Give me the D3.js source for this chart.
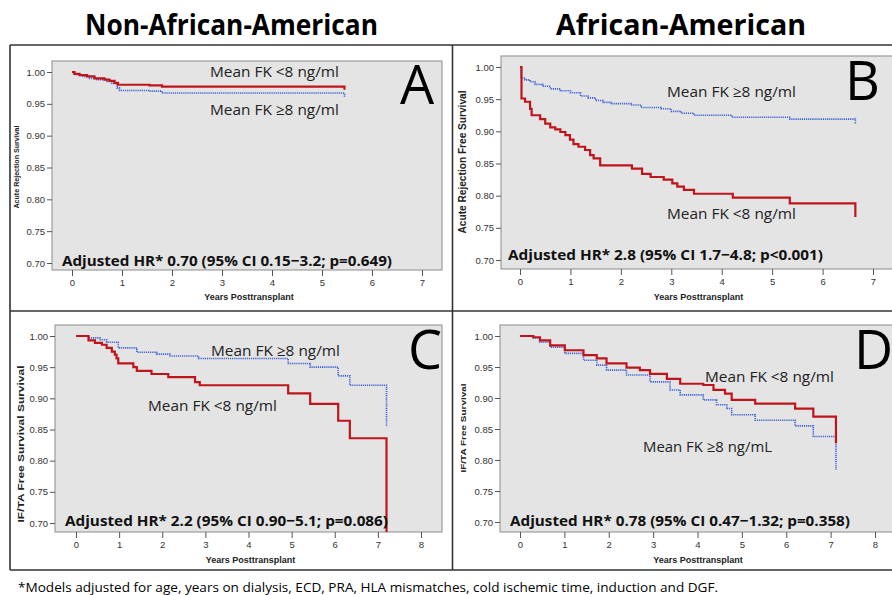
<!DOCTYPE html>
<html>
<head>
<meta charset="utf-8">
<script src="https://cdn.jsdelivr.net/npm/d3@7"></script>
<style>
  body { margin: 0; background: #fff; }
  svg { display: block; }
</style>
</head>
<body>
<script>
// Kaplan-Meier curves, four panels (A-D).
const WIDTH = 892;
const HEIGHT = 595;

// --- data: event times (years) and survival, last pair = censor drop ---
const A_LOW_T  = [0, 0.05, 0.15, 0.3, 0.45, 0.65, 0.75, 0.85, 0.92, 1.55, 1.8, 5.45];
const A_LOW_S  = [1.0, 0.997, 0.995, 0.993, 0.990, 0.988, 0.986, 0.983, 0.980, 0.979, 0.977, 0.972];
const A_HIGH_T = [0, 0.03, 0.2, 0.35, 0.5, 0.7, 0.8, 0.9, 0.95, 1.55, 1.8, 5.45];
const A_HIGH_S = [1.0, 0.996, 0.993, 0.990, 0.988, 0.985, 0.982, 0.975, 0.971, 0.970, 0.967, 0.961];

const B_LOW_T  = [0, 0.03, 0.10, 0.20, 0.23, 0.40, 0.50, 0.60, 0.70, 0.80, 0.90, 0.99, 1.06, 1.16,
                  1.29, 1.39, 1.46, 1.59, 2.22, 2.42, 2.59, 2.85, 3.02, 3.12, 3.25, 3.45, 4.22, 5.35, 6.65];
const B_LOW_S  = [1.0, 0.951, 0.946, 0.935, 0.925, 0.919, 0.912, 0.906, 0.903, 0.899, 0.894, 0.887, 0.880, 0.876,
                  0.871, 0.863, 0.858, 0.847, 0.842, 0.834, 0.829, 0.825, 0.819, 0.814, 0.809, 0.803, 0.797, 0.788, 0.767];
const B_HIGH_T = [0, 0.02, 0.1, 0.2, 0.3, 0.45, 0.6, 0.8, 1.0, 1.2, 1.35, 1.5, 1.65, 1.8, 2.2, 2.4,
                  2.8, 3.0, 3.2, 3.45, 4.2, 5.35, 6.65];
const B_HIGH_S = [1.0, 0.983, 0.980, 0.977, 0.973, 0.970, 0.966, 0.963, 0.960, 0.955, 0.952, 0.948, 0.945, 0.943, 0.941, 0.937,
                  0.935, 0.931, 0.928, 0.925, 0.922, 0.919, 0.912];

const C_LOW_T  = [0, 0.29, 0.44, 0.60, 0.71, 0.83, 0.90, 0.94, 0.98, 1.33, 1.41, 1.75, 2.14, 2.76,
                  2.87, 4.92, 5.43, 6.08, 6.35, 7.2];
const C_LOW_S  = [1.0, 0.993, 0.989, 0.986, 0.981, 0.975, 0.970, 0.964, 0.956, 0.950, 0.944, 0.939, 0.934, 0.926,
                  0.921, 0.908, 0.891, 0.864, 0.836, 0.68];
const C_HIGH_T = [0, 0.29, 0.56, 0.71, 0.98, 1.41, 1.87, 2.18, 2.84, 4.92, 5.43, 6.08, 6.35, 7.2];
const C_HIGH_S = [1.0, 0.997, 0.994, 0.990, 0.981, 0.974, 0.971, 0.968, 0.964, 0.956, 0.950, 0.936, 0.921, 0.855];

const D_LOW_T  = [0, 0.3, 0.45, 0.68, 1.01, 1.43, 1.73, 1.95, 2.40, 2.70, 2.93, 3.31, 3.61, 4.13,
                  4.36, 4.62, 4.77, 5.30, 6.20, 6.61, 7.12];
const D_LOW_S  = [1.0, 0.998, 0.993, 0.985, 0.977, 0.969, 0.964, 0.956, 0.949, 0.945, 0.939, 0.931, 0.923, 0.921,
                  0.913, 0.907, 0.897, 0.891, 0.883, 0.870, 0.827];
const D_HIGH_T = [0, 0.3, 0.45, 0.68, 1.01, 1.43, 1.73, 1.95, 2.40, 2.93, 3.38, 3.61, 4.13, 4.43,
                  4.66, 4.77, 5.30, 6.20, 6.61, 7.12];
const D_HIGH_S = [1.0, 0.997, 0.990, 0.982, 0.972, 0.961, 0.953, 0.945, 0.937, 0.926, 0.913, 0.905, 0.897, 0.889,
                  0.883, 0.873, 0.864, 0.855, 0.838, 0.784];

const Y_TICKS = [0.70, 0.75, 0.80, 0.85, 0.90, 0.95, 1.00];
const X_TICKS_7 = [0, 1, 2, 3, 4, 5, 6, 7];
const X_TICKS_8 = [0, 1, 2, 3, 4, 5, 6, 7, 8];

const GROUPS = ['Non-African-American', 'African-American'];
const FOOTNOTE = '*Models adjusted for age, years on dialysis, ECD, PRA, HLA mismatches, cold ischemic time, induction and DGF.';

const RED = '#c0141c';
const BLUE = '#3f62d6';

const svg = d3.select('body').append('svg')
    .attr('width', WIDTH)
    .attr('height', HEIGHT);

// headers + frame lines
svg.append('text').attr('x', 85).attr('y', 35)
    .attr('textLength', 293).attr('lengthAdjust', 'spacingAndGlyphs')
    .style('font', 'bold 28px "Open Sans", sans-serif').text(GROUPS[0]);
svg.append('text').attr('x', 556).attr('y', 35)
    .attr('textLength', 250).attr('lengthAdjust', 'spacingAndGlyphs')
    .style('font', 'bold 28px "Open Sans", sans-serif').text(GROUPS[1]);

const frame = svg.append('g').attr('stroke', '#333').attr('stroke-width', 1.6).attr('fill', 'none');
frame.append('line').attr('x1', 10).attr('x2', WIDTH).attr('y1', 45).attr('y2', 45);
frame.append('line').attr('x1', 10).attr('x2', WIDTH).attr('y1', 311).attr('y2', 311);
frame.append('line').attr('x1', 10).attr('x2', WIDTH).attr('y1', 570).attr('y2', 570);
frame.append('line').attr('x1', 10).attr('x2', 10).attr('y1', 45).attr('y2', 570);
frame.append('line').attr('x1', 452.5).attr('x2', 452.5).attr('y1', 45).attr('y2', 570);

svg.append('text').attr('x', 18).attr('y', 592)
    .attr('textLength', 700).attr('lengthAdjust', 'spacingAndGlyphs')
    .style('font', '12px "Open Sans", sans-serif').text(FOOTNOTE);

const panels = [
  { id: 'A', rect: [52, 61, 442, 270], xr: [72, 422], xd: 7, yr: [263, 72], xticks: X_TICKS_7,
    ytitle: 'Acute Rejection Survival', ytx: 19, yty: 167, ytlen: 83, ytsize: 6.5,
    xtitleY: 300,
    low: [A_LOW_T, A_LOW_S], high: [A_HIGH_T, A_HIGH_S],
    lowLab: ['Mean FK <8 ng/ml', 210, 77], highLab: ['Mean FK \u22658 ng/ml', 210, 115],
    hr: ['Adjusted HR* 0.70 (95% CI 0.15\u22123.2; p=0.649)', 62, 266, 330],
    letter: [400, 104] },
  { id: 'B', rect: [501, 56, 894, 269], xr: [520, 873], xd: 7, yr: [260, 67], xticks: X_TICKS_7,
    ytitle: 'Acute Rejection Free Survival', ytx: 466, yty: 162, ytlen: 143, ytsize: 10,
    xtitleY: 300,
    low: [B_LOW_T, B_LOW_S], high: [B_HIGH_T, B_HIGH_S],
    lowLab: ['Mean FK <8 ng/ml', 667, 219], highLab: ['Mean FK \u22658 ng/ml', 667, 97],
    hr: ['Adjusted HR* 2.8 (95% CI 1.7\u22124.8; p<0.001)', 508, 260, 315],
    letter: [845, 100] },
  { id: 'C', rect: [55, 325, 442, 532], xr: [76, 421], xd: 8, yr: [523, 336], xticks: X_TICKS_8,
    ytitle: 'IF/TA Free Survival Survival', ytx: 24, yty: 444, ytlen: 157, ytsize: 9.5,
    xtitleY: 563,
    low: [C_LOW_T, C_LOW_S], high: [C_HIGH_T, C_HIGH_S],
    lowLab: ['Mean FK <8 ng/ml', 148, 411], highLab: ['Mean FK \u22658 ng/ml', 211, 356],
    hr: ['Adjusted HR* 2.2 (95% CI 0.90\u22125.1; p=0.086)', 65, 526, 323],
    letter: [408, 369] },
  { id: 'D', rect: [500, 325, 894, 532], xr: [520, 875], xd: 8, yr: [522, 336], xticks: X_TICKS_8,
    ytitle: 'IF/TA Free Survival', ytx: 466, yty: 428, ytlen: 89, ytsize: 8,
    xtitleY: 563,
    low: [D_LOW_T, D_LOW_S], high: [D_HIGH_T, D_HIGH_S],
    lowLab: ['Mean FK <8 ng/ml', 705, 382], highLab: ['Mean FK \u22658 ng/mL', 643, 452],
    hr: ['Adjusted HR* 0.78 (95% CI 0.47\u22121.32; p=0.358)', 510, 526, 340],
    letter: [854, 369] }
];

const drawPanel = p => {
  const [x0, y0, x1, y1] = p.rect;
  const g = svg.append('g');
  const x = d3.scaleLinear().domain([0, p.xd]).range(p.xr);
  const y = d3.scaleLinear().domain([0.70, 1.00]).range(p.yr);

  g.append('rect')
    .attr('x', x0).attr('y', y0).attr('width', x1 - x0).attr('height', y1 - y0)
    .attr('fill', '#e4e4e4').attr('stroke', '#8c8c8c').attr('stroke-width', 1);

  // y axis on the left edge of the box
  const yAxis = g.append('g').attr('transform', `translate(${x0},0)`)
      .call(d3.axisLeft(y).tickValues(Y_TICKS).tickFormat(d3.format('.2f')).tickSize(5).tickPadding(2));
  yAxis.select('.domain').remove();
  yAxis.selectAll('line').attr('stroke', '#555');
  yAxis.selectAll('text').style('font', '9.5px "Liberation Sans", Arial, sans-serif').attr('fill', '#333');

  const xAxis = g.append('g').attr('transform', `translate(0,${y1})`)
      .call(d3.axisBottom(x).tickValues(p.xticks).tickFormat(d3.format('d')).tickSize(6).tickPadding(3));
  xAxis.select('.domain').remove();
  xAxis.selectAll('line').attr('stroke', '#555');
  xAxis.selectAll('text').style('font', '9.5px "Liberation Sans", Arial, sans-serif').attr('fill', '#333');

  g.append('text')
    .attr('x', (x0 + Math.min(x1, 892)) / 2 + 2).attr('y', p.xtitleY)
    .attr('text-anchor', 'middle')
    .style('font', 'bold 9px "Liberation Sans", Arial, sans-serif').attr('fill', '#222')
    .text('Years Posttransplant');

  g.append('text')
    .attr('transform', `translate(${p.ytx},${p.yty}) rotate(-90)`)
    .attr('text-anchor', 'middle')
    .attr('textLength', p.ytlen).attr('lengthAdjust', 'spacingAndGlyphs')
    .style('font', `bold ${p.ytsize}px "Liberation Sans", Arial, sans-serif`)
    .attr('fill', '#222')
    .text(p.ytitle);

  const clipId = 'clip' + p.id;
  g.append('clipPath').attr('id', clipId)
    .append('rect').attr('x', x0).attr('y', y0).attr('width', x1 - x0).attr('height', y1 - y0);

  const line = d3.line()
      .x(d => x(d[0]))
      .y(d => y(d[1]))
      .curve(d3.curveStepAfter);

  const curves = g.append('g').attr('clip-path', `url(#${clipId})`).attr('fill', 'none');
  curves.append('path')
    .datum(d3.zip(p.high[0], p.high[1]))
    .attr('d', line)
    .attr('stroke', BLUE).attr('stroke-width', 1.6).attr('stroke-dasharray', '1.2,0.9');
  curves.append('path')
    .datum(d3.zip(p.low[0], p.low[1]))
    .attr('d', line)
    .attr('stroke', RED).attr('stroke-width', 2.2);

  const lab = (t, tx, ty) => g.append('text')
      .attr('x', tx).attr('y', ty)
      .attr('textLength', 129).attr('lengthAdjust', 'spacingAndGlyphs')
      .style('font', '15px "Open Sans", sans-serif').attr('fill', '#222')
      .text(t);
  lab(...p.lowLab);
  lab(...p.highLab);

  g.append('text')
    .attr('x', p.hr[1]).attr('y', p.hr[2])
    .attr('textLength', p.hr[3]).attr('lengthAdjust', 'spacingAndGlyphs')
    .style('font', 'bold 15px "Open Sans", sans-serif').attr('fill', '#111')
    .text(p.hr[0]);

  g.append('text')
    .attr('x', p.letter[0]).attr('y', p.letter[1])
    .style('font', '54px "Open Sans", sans-serif').attr('fill', '#000')
    .text(p.id);
};

panels.forEach(drawPanel);
</script>
</body>
</html>
